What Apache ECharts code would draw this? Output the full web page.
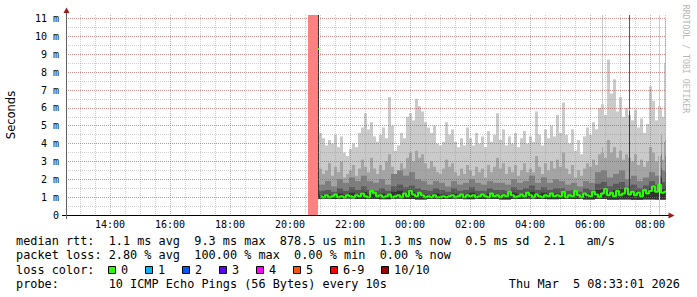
<!DOCTYPE html>
<html><head><meta charset="utf-8">
<script src="https://cdn.jsdelivr.net/npm/echarts@6/dist/echarts.min.js"></script>
<style>html,body{margin:0;padding:0;background:#fff;}#c{width:697px;height:297px;}#c svg{opacity:0.999;}</style>
</head><body><div id="c"></div>
<script>
// ================= DATA =================
const timeStart = '12:32';
const timeEnd = '08:32';
const timeTickLabels = ['14:00','16:00','18:00','20:00','22:00','00:00','02:00','04:00','06:00','08:00'];
const yTickLabels = ['0','1 m','2 m','3 m','4 m','5 m','6 m','7 m','8 m','9 m','10 m','11 m'];

// smoke samples (ms), regular samples starting at smokeStart
const smokeStart = '20:58';
const stepFine = 6;    // minutes per sample for pingMax / ping9 / medianRtt
const stepMid = 12;    // minutes per sample for ping8 / ping7 / ping6
const stepMin = 24;    // minutes per sample for pingMin
const pingMax = [4.6,4.3,3.9,4.2,4.0,4.5,3.8,4.4,3.5,3.3,
 3.7,4.0,3.8,4.6,4.9,5.7,4.8,5.2,4.4,4.1,
 4.5,4.9,4.3,6.6,5.0,3.6,3.9,4.6,4.3,5.5,
 5.7,5.3,6.5,6.1,5.8,5.2,4.9,4.6,5.0,4.0,
 3.9,4.1,5.2,4.5,4.8,4.1,3.8,4.3,3.9,4.9,
 4.3,3.9,4.6,4.0,4.4,3.8,4.7,4.1,4.5,5.7,
 4.2,4.8,3.9,4.4,4.0,4.6,3.8,4.3,4.7,4.0,
 4.4,4.1,5.8,4.5,3.9,4.8,4.3,5.0,4.4,5.6,
 4.6,6.3,4.5,4.0,4.8,3.6,4.2,3.4,4.4,4.9,
 4.5,5.2,4.8,6.0,6.2,5.6,8.7,6.8,7.6,5.8,
 6.6,5.5,6.0,5.6,5.3,5.9,4.9,5.4,4.6,5.1,
 7.2,6.4,5.3,6.1,5.5,8.5];
const ping9 = [2.6,2.3,2.5,2.9,2.2,2.7,2.4,3.0,2.1,2.3,
 2.5,2.8,2.2,2.6,3.1,2.7,2.4,3.2,2.6,2.3,
 2.8,2.5,3.0,3.4,2.7,2.2,2.4,2.9,2.6,3.2,
 3.5,3.0,3.6,3.2,3.4,2.9,2.6,3.0,2.7,2.4,
 2.3,2.6,3.1,2.7,2.9,2.4,2.2,2.6,2.3,2.8,
 2.5,2.2,2.7,2.4,2.6,2.1,2.8,2.4,2.7,3.2,
 2.6,2.9,2.3,2.7,2.4,2.8,2.2,2.5,2.9,2.4,
 2.6,2.4,3.3,2.7,2.3,2.9,2.5,3.0,2.6,3.1,
 2.7,3.5,2.6,2.3,2.8,2.1,2.5,2.2,2.6,2.9,
 2.7,3.1,2.8,3.4,3.5,3.2,4.2,3.5,3.8,3.2,
 3.6,3.1,3.4,3.2,3.0,3.4,2.8,3.1,2.7,3.0,
 3.8,3.5,3.0,3.3,3.1,4.1];
const ping8 = [1.7,1.9,1.6,2.0,1.8,2.1,1.9,2.2,1.9,1.8,
 2.0,1.7,2.3,2.5,2.2,2.4,2.0,1.9,1.7,1.9,
 1.8,1.6,1.9,1.7,1.8,2.0,1.8,1.7,1.9,1.8,
 1.8,1.7,2.0,1.8,1.9,2.2,1.8,2.1,1.8,2.0,
 1.9,1.7,1.8,1.6,1.9,1.8,2.4,2.5,2.1,2.3,
 2.5,2.0,2.2,1.9,2.1,2.4,2.2,2.5];
const ping7 = [1.35,1.4,1.3,1.5,1.35,1.55,1.4,1.6,1.4,1.35,
 1.5,1.35,1.6,1.7,1.55,1.65,1.5,1.4,1.35,1.5,
 1.4,1.3,1.5,1.35,1.4,1.55,1.35,1.35,1.5,1.4,
 1.4,1.35,1.55,1.4,1.5,1.65,1.4,1.55,1.4,1.5,
 1.5,1.35,1.4,1.3,1.5,1.4,1.75,1.85,1.6,1.75,
 1.85,1.6,1.7,1.5,1.65,1.9,1.7,1.85];
const ping6 = [1.12,1.15,1.12,1.2,1.12,1.25,1.15,1.3,1.15,1.12,
 1.2,1.12,1.3,1.35,1.25,1.3,1.2,1.15,1.12,1.2,
 1.15,1.12,1.2,1.12,1.15,1.25,1.12,1.12,1.2,1.15,
 1.15,1.12,1.25,1.15,1.2,1.3,1.15,1.25,1.15,1.2,
 1.2,1.12,1.15,1.12,1.2,1.2,1.4,1.45,1.3,1.4,
 1.45,1.3,1.35,1.25,1.35,1.5,1.35,1.45];
const pingMin = [0.92,0.9,0.93,0.9,0.91,0.89,0.92,0.9,0.88,0.91,
 0.9,0.92,0.89,0.9,0.91,0.88,0.9,0.92,0.9,0.89,
 0.91,0.9,0.88,0.9,0.87,0.88,0.86,0.88,0.87];
const medianRtt = [1.05,1.0,1.1,1.0,1.05,1.15,1.0,1.05,1.0,1.1,
 1.05,1.0,1.1,1.05,1.2,1.05,1.0,1.35,1.25,1.05,
 1.1,1.0,1.05,1.15,1.0,1.05,1.1,1.0,1.2,1.05,
 1.35,1.15,1.05,1.25,1.1,1.0,1.05,1.0,1.1,1.0,
 1.0,1.05,1.0,1.05,1.1,1.0,1.05,1.15,1.0,1.1,
 1.05,1.1,1.0,1.05,1.15,1.05,1.0,1.2,1.05,1.1,
 1.0,1.1,1.05,1.3,1.1,1.0,1.05,1.15,1.05,1.25,
 1.1,1.0,1.15,1.05,1.0,1.1,1.05,1.2,1.05,1.1,
 1.05,1.3,1.0,1.1,1.05,1.35,1.1,1.0,1.2,1.1,
 1.05,1.3,1.15,1.0,1.2,1.45,1.1,1.25,1.05,1.35,
 1.1,1.2,1.5,1.15,1.3,1.1,1.25,1.05,1.4,1.2,
 1.35,1.6,1.3,1.7,1.25,1.3];
// single-step samples: [time, min, p6, p7, p8, p9, max, median]
const narrowSamples = [
  ['20:56', 0.9, 11.5, 11.5, 11.5, 11.5, 11.5, 9.3],
  ['06:24', 0.9, 1.3, 1.7, 2.5, 3.8, 11.5, 1.2],
  ['07:18', 0.9, 5.9, 11.5, 11.5, 11.5, 11.5, 5.9],
  ['08:22', 0.9, 2.1, 2.6, 3.4, 4.5, 6.0, 1.4],
  ['08:30', 0.9, 1.6, 2.4, 3.3, 4.2, 11.0, 1.3]
];
const rrdStep = 2; // minutes per column
const fullLossPeriods = [['20:36', '20:56']];
const lossOneTimes = ['08:18'];

// legend texts
const legendMedian = 'median rtt:  1.1 ms avg  9.3 ms max  878.5 us min  1.3 ms now  0.5 ms sd  2.1   am/s';
const legendLoss = 'packet loss: 2.80 % avg  100.00 % max  0.00 % min  0.00 % now';
const legendLossColorTitle = 'loss color:';
const lossColorNames = ['0','1','2','3','4','5','6-9','10/10'];
const lossColorValues = ['#26ff00','#00b8ff','#0059ff','#5e00ff','#ff00ff','#ff5500','#ff0000','#a10000'];
const legendProbe = 'probe:       10 ICMP Echo Pings (56 Bytes) every 10s';
const legendDate = 'Thu Mar  5 08:33:01 2026';
const yAxisTitle = 'Seconds';
const watermark = 'RRDTOOL / TOBI OETIKER';

// ================= BUILD =================
const hm = s => { const p = s.split(':').map(Number); return p[0] * 60 + p[1]; };
const axisStart = hm(timeStart);
const toAxis = s => { let m = hm(s); if (m < axisStart) m += 1440; return m; };
const axisEnd = toAxis(timeEnd);
const pad = n => String(n).padStart(2, '0');
const fmt = m => pad(Math.floor((m % 1440) / 60)) + ':' + pad(m % 60);
const cats = [];
for (let m = axisStart; m <= axisEnd; m += rrdStep) cats.push(fmt(m));
const yMax = 11.2;
const s0 = toAxis(smokeStart);

function bandData(vals, step, nIdx) {
  const out = vals.map((v, i) => {
    const a = s0 + i * step;
    const lo = pingMin[Math.min(pingMin.length - 1, Math.floor((a - s0) / stepMin))];
    return [a, a + step, lo, Math.min(v, yMax)];
  });
  narrowSamples.forEach(r => {
    const a = toAxis(r[0]);
    out.push([a, a + rrdStep, r[1], Math.min(r[nIdx], yMax)]);
  });
  return out;
}
function rectRender(color) {
  return function (params, api) {
    const p0 = api.coord([api.value(0), api.value(3)]);
    const p1 = api.coord([api.value(1), api.value(2)]);
    return { type: 'rect', shape: { x: p0[0], y: p0[1], width: p1[0] - p0[0], height: p1[1] - p0[1] }, style: { fill: color } };
  };
}
const bands = [
  [pingMax, stepFine, 6, '#cacaca'],
  [ping9, stepFine, 5, '#a4a4a4'],
  [ping8, stepMid, 4, '#7e7e7e'],
  [ping7, stepMid, 3, '#585858'],
  [ping6, stepMid, 2, '#323232']
];
const series = [];
bands.forEach((b, i) => {
  series.push({
    type: 'custom', xAxisIndex: 2, yAxisIndex: 0, clip: true, silent: true, z: 2 + i * 0.01,
    renderItem: rectRender(b[3]), encode: { x: [0, 1], y: [2, 3] },
    data: bandData(b[0], b[1], b[2])
  });
});
series.push({
  type: 'line', xAxisIndex: 2, yAxisIndex: 0, step: 'middle', showSymbol: false, silent: true, z: 3,
  lineStyle: { color: lossColorValues[0], width: 2 },
  data: medianRtt.map((v, i) => [s0 + i * stepFine + stepFine / 2, v])
});
series.push({
  type: 'custom', xAxisIndex: 2, yAxisIndex: 0, clip: true, silent: true, z: 3.1,
  renderItem: function (params, api) {
    const p = api.coord([api.value(0), api.value(1)]);
    const w = api.size([rrdStep, 0])[0];
    return { type: 'rect', shape: { x: p[0], y: p[1] - 1, width: w, height: 2 }, style: { fill: lossColorValues[0] } };
  },
  data: narrowSamples.map(r => [toAxis(r[0]), r[7]])
});
series.push({
  type: 'custom', xAxisIndex: 2, yAxisIndex: 0, clip: true, silent: true, z: 8,
  renderItem: function (params, api) {
    const a = api.coord([api.value(0), 0]);
    const b = api.coord([api.value(1), 0]);
    const cs = params.coordSys;
    return { type: 'rect', shape: { x: a[0], y: cs.y, width: b[0] - a[0], height: cs.height }, style: { fill: '#ff8080' } };
  },
  data: fullLossPeriods.map(p => [toAxis(p[0]), toAxis(p[1])])
});
series.push({
  type: 'custom', xAxisIndex: 2, yAxisIndex: 0, clip: true, silent: true, z: 8,
  renderItem: function (params, api) {
    const a = api.coord([api.value(0), 0]);
    const cs = params.coordSys;
    return { type: 'rect', shape: { x: a[0], y: cs.y, width: 1, height: cs.height }, style: { fill: '#a3dcf4' } };
  },
  data: lossOneTimes.map(t => [toAxis(t)])
});

const mono = 'DejaVu Sans Mono';
const graphics = [];
// axis lines + arrows
graphics.push({ type: 'line', z: 20, shape: { x1: 62, y1: 215.5, x2: 669, y2: 215.5 }, style: { stroke: '#000', lineWidth: 1 } });
graphics.push({ type: 'line', z: 20, shape: { x1: 66.5, y1: 219, x2: 66.5, y2: 12 }, style: { stroke: '#606060', lineWidth: 1 } });
graphics.push({ type: 'polygon', z: 21, shape: { points: [[63.5, 13], [69.5, 13], [66.5, 7.5]] }, style: { fill: '#a01818' } });
graphics.push({ type: 'polygon', z: 21, shape: { points: [[668.5, 212.5], [668.5, 218.5], [674.5, 215.5]] }, style: { fill: '#a01818' } });
// watermark
graphics.push({ type: 'text', z: 20, x: 686, y: 59, rotation: -Math.PI / 2,
  style: { text: watermark, fill: '#b8b8b8', font: '8.2px "' + mono + '"', align: 'center', verticalAlign: 'middle' } });
// legend
const legFont = '11.85px "' + mono + '"';
graphics.push({ type: 'text', z: 20, x: 16, y: 241, style: { text: legendMedian, fill: '#000', font: legFont, verticalAlign: 'middle' } });
graphics.push({ type: 'text', z: 20, x: 16, y: 255.3, style: { text: legendLoss, fill: '#000', font: legFont, verticalAlign: 'middle' } });
graphics.push({ type: 'text', z: 20, x: 16, y: 269.6, style: { text: legendLossColorTitle, fill: '#000', font: legFont, verticalAlign: 'middle' } });
const boxX = [108.5, 145.5, 182.5, 219.5, 256.5, 293.5, 330.5, 381.5];
lossColorNames.forEach((n, i) => {
  graphics.push({ type: 'rect', z: 20, shape: { x: boxX[i], y: 266.5, width: 7, height: 7 }, style: { fill: lossColorValues[i], stroke: '#000', lineWidth: 1 } });
  graphics.push({ type: 'text', z: 20, x: boxX[i] + 12.5, y: 269.6, style: { text: n, fill: '#000', font: legFont, verticalAlign: 'middle' } });
});
graphics.push({ type: 'text', z: 20, x: 16, y: 284, style: { text: legendProbe, fill: '#000', font: legFont, verticalAlign: 'middle' } });
graphics.push({ type: 'text', z: 20, x: 680, y: 284, style: { text: legendDate, fill: '#000', font: legFont, align: 'right', verticalAlign: 'middle' } });

const minorGridColor = 'rgba(140,140,140,0.42)';
const majorGridColor = 'rgba(200,60,60,0.45)';
const option = {
  animation: false,
  backgroundColor: '#ffffff',
  grid: { left: 66, right: 31, top: 15, bottom: 82, containLabel: false, outerBoundsMode: 'none' },
  xAxis: [
    { type: 'category', data: cats, boundaryGap: false, z: 5, position: 'bottom',
      axisLine: { show: false }, axisTick: { show: false }, axisLabel: { show: false },
      splitLine: { show: true, interval: (i, v) => hm(v) % 30 === 0 && timeTickLabels.indexOf(v) < 0,
        lineStyle: { color: minorGridColor, type: [1, 1], width: 1 } } },
    { type: 'category', data: cats, boundaryGap: false, z: 6, position: 'bottom',
      axisLine: { show: false }, axisTick: { show: false },
      axisLabel: { show: true, interval: (i, v) => timeTickLabels.indexOf(v) >= 0, margin: 4,
        fontFamily: mono, fontSize: 10, color: '#000' },
      splitLine: { show: true, interval: (i, v) => timeTickLabels.indexOf(v) >= 0,
        lineStyle: { color: majorGridColor, type: [1, 1], width: 1 } } },
    { type: 'value', min: axisStart, max: axisEnd, show: false, position: 'bottom' }
  ],
  yAxis: [
    { type: 'value', min: 0, max: yMax, interval: 1, z: 6, position: 'left',
      axisLine: { show: false }, axisTick: { show: false },
      axisLabel: { formatter: v => (Number.isInteger(v) ? yTickLabels[v] : ''), showMaxLabel: false, margin: 7,
        fontFamily: mono, fontSize: 10, color: '#000' },
      splitLine: { show: true, showMaxLine: false, showMinLine: false, lineStyle: { color: majorGridColor, type: [1, 1], width: 1 } },
      name: yAxisTitle, nameLocation: 'middle', nameGap: 49, nameRotate: 90,
      nameTextStyle: { fontFamily: 'DejaVu Sans', fontSize: 11.5, color: '#000' } },
    { type: 'value', min: 0, max: yMax, interval: 0.5, z: 5, position: 'left', show: true,
      axisLine: { show: false }, axisTick: { show: false }, axisLabel: { show: false },
      splitLine: { show: true, showMaxLine: false, showMinLine: false, lineStyle: { color: minorGridColor, type: [1, 1], width: 1 } } }
  ],
  series: series,
  graphic: graphics
};
const chart = echarts.init(document.getElementById('c'), null, { renderer: 'svg', width: 697, height: 297 });
chart.setOption(option);
</script></body></html>
